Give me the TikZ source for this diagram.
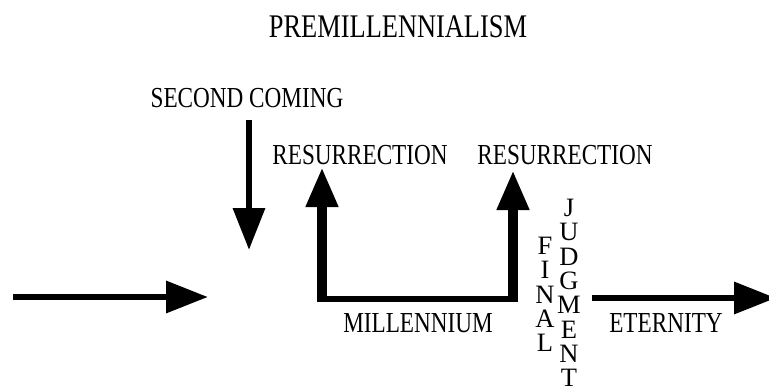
\documentclass[tikz,border=0pt]{standalone}
\usepackage{fontspec}
\setmainfont{Liberation Serif}[FakeStretch=0.8]
\newfontfamily\stackfont{Liberation Serif}
\usetikzlibrary{arrows.meta}

\begin{document}
\begin{tikzpicture}[x=1pt,y=-1pt,
    title text/.style={font=\fontsize{33}{36}\selectfont,inner sep=0pt,anchor=base},
    label text/.style={font=\fontsize{29}{32}\selectfont,inner sep=0pt,anchor=base},
    stack text/.style={font=\stackfont\fontsize{26.5}{24.3}\selectfont,inner sep=0pt,align=center,anchor=north},
    thin arrow/.style={line width=6.5pt,-{Triangle[length=42pt,width=31pt]}},
    thick arrow/.style={line width=10pt,-{Triangle[length=40pt,width=30pt]}}]
    \useasboundingbox (0,0) rectangle (769,388);
    \fill[white] (0,0) rectangle (769,388);

    % labels
    \node[title text] (title) at (398,37) {PREMILLENNIALISM};
    \node[label text] (second) at (247,107) {SECOND COMING};
    \node[label text] (res1) at (360,164) {RESURRECTION};
    \node[label text] (res2) at (565,164) {RESURRECTION};
    \node[label text] (mill) at (418,332) {MILLENNIUM};
    \node[label text] (eter) at (666,332) {ETERNITY};
    \node[stack text] (final) at (545,237) {F\\I\\N\\A\\L};
    \node[stack text] (judg) at (569,199) {J\\U\\D\\G\\M\\E\\N\\T};

    % ends of the arrows
    \coordinate (start) at (13,297);
    \coordinate (gap) at (208,297);
    \coordinate (comeTop) at (249,120);
    \coordinate (comeTip) at (249,250);
    \coordinate (baseL) at (317,299);
    \coordinate (baseR) at (518,299);
    \coordinate (cornerL) at (322,302);
    \coordinate (cornerR) at (513,302);
    \coordinate (riseL) at (322,167);
    \coordinate (riseR) at (513,170);
    \coordinate (eterStart) at (592,298);
    \coordinate (eterTip) at (776,298);

    \draw[thin arrow] (start) -- (gap);
    \draw[thin arrow] (comeTop) -- (comeTip);
    \draw[line width=6.5pt] (baseL) -- (baseR);
    \draw[thick arrow] (cornerL) -- (riseL);
    \draw[thick arrow] (cornerR) -- (riseR);
    \draw[thin arrow] (eterStart) -- (eterTip);
\end{tikzpicture}
\end{document}
